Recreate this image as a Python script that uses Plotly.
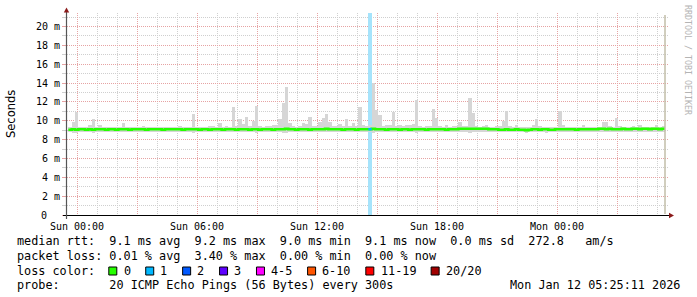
import plotly.graph_objects as go
import pandas as pd

# ---------------- data ----------------
start_time = "2026-01-10 23:34"   # first 10-minute bin
step_minutes = 10

smoke_hi = [
    9.35, 9.9, 10.9, 9.35, 9.3, 9.35, 9.5, 10.2, 9.35, 9.6,
    9.35, 9.3, 9.35, 9.3, 9.35, 9.35, 9.8, 9.35, 9.3, 9.35,
    9.3, 9.35, 9.4, 9.35, 9.3, 9.3, 9.35, 9.3, 9.35, 9.3,
    9.3, 9.35, 9.3, 9.4, 9.35, 9.3, 9.35, 10.7, 9.35, 9.3,
    9.3, 9.35, 9.45, 9.4, 9.35, 9.8, 9.35, 9.4, 9.35, 11.5,
    9.4, 10.2, 9.7, 10.4, 9.45, 10.0, 11.6, 9.4, 9.35, 9.4,
    9.4, 9.5, 9.5, 10.2, 11.9, 13.6, 9.75, 9.4, 9.35, 9.4,
    9.8, 9.7, 10.4, 9.4, 9.45, 9.9, 10.3, 10.7, 9.9, 9.45,
    9.4, 9.7, 9.4, 10.2, 9.45, 9.8, 9.4, 11.5, 9.6, 9.4,
    9.6, 14.0, 11.1, 10.6, 9.45, 9.5, 9.5, 10.9, 9.4, 9.5,
    9.4, 9.6, 9.6, 9.7, 12.2, 9.4, 9.35, 9.4, 9.4, 11.2,
    10.3, 9.4, 9.35, 9.5, 9.35, 9.4, 9.45, 9.9, 9.4, 9.4,
    12.4, 10.8, 9.4, 9.35, 9.4, 9.5, 9.35, 9.35, 9.4, 9.4,
    9.95, 11.0, 9.4, 9.35, 9.6, 9.35, 9.3, 9.35, 9.35, 9.6,
    10.2, 9.4, 9.35, 9.3, 9.35, 9.3, 9.35, 11.0, 9.5, 9.35,
    9.3, 9.35, 9.3, 9.35, 9.5, 9.35, 9.3, 9.35, 9.3, 9.35,
    9.9, 9.9, 9.4, 9.35, 10.3, 9.4, 9.35, 9.3, 9.35, 9.4,
    9.35, 9.6, 9.35, 9.3, 9.35, 9.3, 9.5, 9.35, 9.4,
]

smoke_lo = [
    8.85, 8.75, 8.75, 8.85, 8.8, 8.85, 8.8, 8.75, 8.85, 8.8,
    8.85, 8.85, 8.8, 8.85, 8.85, 8.8, 8.85, 8.85, 8.85, 8.8,
    8.85, 8.85, 8.8, 8.85, 8.85, 8.85, 8.8, 8.85, 8.85, 8.85,
    8.85, 8.8, 8.85, 8.85, 8.85, 8.8, 8.85, 8.75, 8.85, 8.85,
    8.85, 8.85, 8.8, 8.8, 8.85, 8.8, 8.85, 8.8, 8.85, 8.8,
    8.8, 8.8, 8.85, 8.8, 8.8, 8.8, 8.75, 8.85, 8.8, 8.85,
    8.8, 8.85, 8.8, 8.8, 8.75, 8.75, 8.8, 8.85, 8.85, 8.8,
    8.8, 8.85, 8.8, 8.85, 8.8, 8.8, 8.8, 8.8, 8.85, 8.8,
    8.85, 8.8, 8.85, 8.8, 8.85, 8.8, 8.85, 8.8, 8.85, 8.8,
    8.8, 8.75, 8.8, 8.8, 8.85, 8.8, 8.85, 8.8, 8.85, 8.85,
    8.8, 8.85, 8.85, 8.8, 8.75, 8.85, 8.85, 8.8, 8.85, 8.8,
    8.8, 8.85, 8.85, 8.8, 8.85, 8.8, 8.85, 8.8, 8.85, 8.85,
    8.75, 8.8, 8.85, 8.85, 8.8, 8.85, 8.85, 8.8, 8.85, 8.85,
    8.8, 8.8, 8.85, 8.85, 8.85, 8.8, 8.85, 8.75, 8.85, 8.8,
    8.8, 8.85, 8.85, 8.75, 8.8, 8.85, 8.85, 8.8, 8.85, 8.85,
    8.85, 8.8, 8.85, 8.85, 8.8, 8.85, 8.8, 8.85, 8.85, 8.85,
    8.8, 8.85, 8.85, 8.8, 8.8, 8.85, 8.85, 8.85, 8.8, 8.85,
    8.85, 8.85, 8.8, 8.85, 8.85, 8.8, 8.85, 8.85, 8.85,
]

median_rtt = [
    9.05, 9.1, 9.05, 9.1, 9.1, 9.05, 9.1, 9.05, 9.1, 9.1,
    9.1, 9.05, 9.1, 9.1, 9.05, 9.1, 9.1, 9.1, 9.05, 9.1,
    9.1, 9.1, 9.1, 9.05, 9.1, 9.1, 9.1, 9.1, 9.05, 9.1,
    9.1, 9.1, 9.1, 9.1, 9.05, 9.1, 9.1, 9.1, 9.1, 9.05,
    9.1, 9.1, 9.05, 9.1, 9.1, 9.1, 9.05, 9.1, 9.1, 9.1,
    9.05, 9.1, 9.1, 9.1, 9.05, 9.1, 9.1, 9.05, 9.1, 9.1,
    9.1, 9.05, 9.1, 9.1, 9.1, 9.15, 9.1, 9.1, 9.05, 9.1,
    9.1, 9.1, 9.05, 9.1, 9.1, 9.1, 9.1, 9.15, 9.1, 9.1,
    9.1, 9.1, 9.05, 9.1, 9.1, 9.1, 9.05, 9.1, 9.1, 9.1,
    9.1, 9.15, 9.1, 9.1, 9.1, 9.05, 9.1, 9.1, 9.1, 9.05,
    9.1, 9.1, 9.05, 9.1, 9.1, 9.1, 9.1, 9.05, 9.1, 9.1,
    9.1, 9.1, 9.1, 9.05, 9.1, 9.1, 9.1, 9.15, 9.15, 9.15,
    9.15, 9.15, 9.15, 9.15, 9.15, 9.15, 9.1, 9.1, 9.1, 9.05,
    9.05, 9.1, 9.05, 9.05, 9.1, 9.05, 9.05, 9.0, 9.05, 9.1,
    9.1, 9.05, 9.1, 9.1, 9.05, 9.05, 9.1, 9.1, 9.1, 9.1,
    9.1, 9.1, 9.05, 9.1, 9.1, 9.1, 9.1, 9.1, 9.1, 9.15,
    9.15, 9.1, 9.15, 9.1, 9.1, 9.1, 9.15, 9.1, 9.1, 9.15,
    9.15, 9.1, 9.15, 9.15, 9.1, 9.15, 9.15, 9.1, 9.15,
]

loss_count = [0] * 90 + [1] + [0] * 88   # lost pings out of 20 per bin

loss_names = ["0", "1", "2", "3", "4-5", "6-10", "11-19", "20/20"]
loss_colors = ["#26ff00", "#00b8ff", "#0059ff", "#5e00ff",
               "#ff00ff", "#ff5500", "#ff0000", "#a00000"]

y_tick_vals = [0, 2, 4, 6, 8, 10, 12, 14, 16, 18, 20]
y_tick_text = ["", "2 m", "4 m", "6 m", "8 m", "10 m",
               "12 m", "14 m", "16 m", "18 m", "20 m"]
zero_label = "0"

x_range = ["2026-01-10 23:30", "2026-01-12 05:33"]
y_range = [0, 21.43]

legend_lines = [
    "median rtt:  9.1 ms avg  9.2 ms max  9.0 ms min  9.1 ms now  0.0 ms sd  272.8   am/s",
    "packet loss: 0.01 % avg  3.40 % max  0.00 % min  0.00 % now",
]
probe_text = "probe:       20 ICMP Echo Pings (56 Bytes) every 300s"
stamp_text = "Mon Jan 12 05:25:11 2026"

# ---------------- geometry helpers ----------------
W, H = 697, 297
L, R, T, B = 67, 668, 13, 215
def px(x):
    return (x - L) / (R - L)
def py(y):
    return (B - y) / (B - T)

MONO = "DejaVu Sans Mono"
def nb(s):
    return s.replace(" ", "\u00a0")

step = pd.Timedelta(minutes=step_minutes)
n = len(smoke_hi)
bin_starts = [pd.Timestamp(start_time) + i * step for i in range(n)]
bin_centers = [t + step / 2 for t in bin_starts]
data_end = bin_starts[-1] + step

fig = go.Figure()

# loss bars (full height)
loss_x = [c for c, k in zip(bin_centers, loss_count) if k > 0]
fig.add_trace(go.Bar(
    x=loss_x, y=[y_range[1]] * len(loss_x), base=0,
    width=step_minutes * 60000, marker=dict(color="#a6e3fb", line=dict(width=0)),
    hoverinfo="skip", showlegend=False))

# smoke
fig.add_trace(go.Bar(
    x=bin_centers, base=smoke_lo,
    y=[h - l for h, l in zip(smoke_hi, smoke_lo)],
    width=step_minutes * 60000,
    marker=dict(color="#d6d6d6", line=dict(width=0)),
    hoverinfo="skip", showlegend=False))

# median line (green)
fig.add_trace(go.Scatter(
    x=bin_starts + [data_end], y=median_rtt + [median_rtt[-1]],
    mode="lines", line=dict(color=loss_colors[0], width=2.6, shape="hv"),
    hoverinfo="skip", showlegend=False))

# median segments coloured by loss
for i, k in enumerate(loss_count):
    if k > 0:
        fig.add_trace(go.Scatter(
            x=[bin_starts[i], bin_starts[i] + step],
            y=[median_rtt[i], median_rtt[i]],
            mode="lines", line=dict(color=loss_colors[1], width=2.6),
            hoverinfo="skip", showlegend=False))

# x ticks
major = pd.date_range("2026-01-11 00:00", "2026-01-12 03:00", freq="3h")
major_text = [t.strftime("%a %H:%M") if t.hour % 6 == 0 else "" for t in major]
minor = pd.date_range("2026-01-11 00:00", "2026-01-12 05:00", freq="1h")

MGRID = "#e6a3a3"
GRID = "#cfcfcf"
DASH = "1px,1px"

fig.update_xaxes(
    range=x_range, type="date",
    tickmode="array", tickvals=list(major), ticktext=major_text,
    showgrid=True, gridcolor=MGRID, griddash=DASH, gridwidth=1,
    minor=dict(tickmode="array", tickvals=list(minor), showgrid=True,
               gridcolor=GRID, griddash=DASH, gridwidth=1),
    ticks="", showline=False, zeroline=False, ticklabelstandoff=4,
    tickfont=dict(family=MONO, size=10, color="#000000"),
    fixedrange=True,
)
fig.update_yaxes(
    range=y_range,
    tickmode="array", tickvals=y_tick_vals, ticktext=y_tick_text,
    showgrid=True, gridcolor=MGRID, griddash=DASH, gridwidth=1,
    minor=dict(dtick=1, tick0=0, showgrid=True, gridcolor=GRID,
               griddash=DASH, gridwidth=1, ticks="outside", ticklen=4,
               tickcolor=GRID),
    ticks="outside", ticklen=4, tickcolor=MGRID,
    showline=False, zeroline=False,
    tickfont=dict(family=MONO, size=10, color="#000000"),
    fixedrange=True,
)

shapes = []
# now line at data end
shapes.append(dict(type="line", xref="x", yref="paper", x0=data_end, x1=data_end,
                   y0=py(214), y1=py(15), line=dict(color="#c2bea8", width=1.5)))
# axes
shapes.append(dict(type="line", xref="paper", yref="paper", x0=px(63), x1=px(669),
                   y0=py(215.5), y1=py(215.5), line=dict(color="#000000", width=1)))
shapes.append(dict(type="line", xref="paper", yref="paper", x0=px(66.5), x1=px(66.5),
                   y0=py(219), y1=py(11), line=dict(color="#555555", width=1.2)))
# arrows
shapes.append(dict(type="path", xref="paper", yref="paper",
                   path=f"M {px(63.8)} {py(12.5)} L {px(69.2)} {py(12.5)} L {px(66.5)} {py(7.5)} Z",
                   fillcolor="#8b1a1a", line=dict(width=0)))
shapes.append(dict(type="path", xref="paper", yref="paper",
                   path=f"M {px(669)} {py(212.7)} L {px(669)} {py(218.3)} L {px(674)} {py(215.5)} Z",
                   fillcolor="#8b1a1a", line=dict(width=0)))

annotations = []
# zero tick label aligned with the units-digit column
annotations.append(dict(text=zero_label, xref="paper", yref="y",
                        x=px(48.5), y=0, xanchor="right", yanchor="middle",
                        showarrow=False, font=dict(family=MONO, size=10, color="#000000")))
CW = 7.1
X0 = 16
rows_y = [240.8, 255.6, 270.6, 285.3]
for txt, yy in zip(legend_lines, rows_y[:2]):
    annotations.append(dict(text=nb(txt), xref="paper", yref="paper",
                            x=px(X0 - 1), y=py(yy), xanchor="left", yanchor="middle",
                            showarrow=False, font=dict(family=MONO, size=11.8, color="#000000")))
annotations.append(dict(text=nb("loss color:"), xref="paper", yref="paper",
                        x=px(X0 - 1), y=py(rows_y[2]), xanchor="left", yanchor="middle",
                        showarrow=False, font=dict(family=MONO, size=11.8, color="#000000")))
c = 13.0
for name, col in zip(loss_names, loss_colors):
    bx = X0 + c * CW
    shapes.append(dict(type="rect", xref="paper", yref="paper",
                       x0=px(bx + 0.5), x1=px(bx + 8.5), y0=py(275), y1=py(267),
                       fillcolor=col, line=dict(color="#000000", width=1)))
    annotations.append(dict(text=nb(name), xref="paper", yref="paper",
                            x=px(X0 + (c + 2.0) * CW - 1), y=py(rows_y[2]),
                            xanchor="left", yanchor="middle", showarrow=False,
                            font=dict(family=MONO, size=11.8, color="#000000")))
    c += 2.2 + len(name) + 2
annotations.append(dict(text=nb(probe_text), xref="paper", yref="paper",
                        x=px(X0 - 1), y=py(rows_y[3]), xanchor="left", yanchor="middle",
                        showarrow=False, font=dict(family=MONO, size=11.8, color="#000000")))
annotations.append(dict(text=nb(stamp_text), xref="paper", yref="paper",
                        x=px(682), y=py(rows_y[3]), xanchor="right", yanchor="middle",
                        showarrow=False, font=dict(family=MONO, size=11.8, color="#000000")))
# y-axis title
annotations.append(dict(text="Seconds", xref="paper", yref="paper",
                        x=px(11), y=py(114), xanchor="center", yanchor="middle",
                        textangle=-90, showarrow=False,
                        font=dict(family="DejaVu Sans", size=11.5, color="#000000")))
# watermark
annotations.append(dict(text=nb("RRDTOOL / TOBI OETIKER"), xref="paper", yref="paper",
                        x=px(688), y=py(60), xanchor="center", yanchor="middle",
                        textangle=90, showarrow=False,
                        font=dict(family=MONO, size=8.3, color="#b4b4b4")))

fig.update_layout(
    width=W, height=H,
    margin=dict(l=L, r=W - R, t=T, b=H - B, pad=0),
    paper_bgcolor="#ffffff", plot_bgcolor="#ffffff",
    barmode="overlay", bargap=0,
    showlegend=False,
    shapes=shapes, annotations=annotations,
)

fig.write_html("out.html")
